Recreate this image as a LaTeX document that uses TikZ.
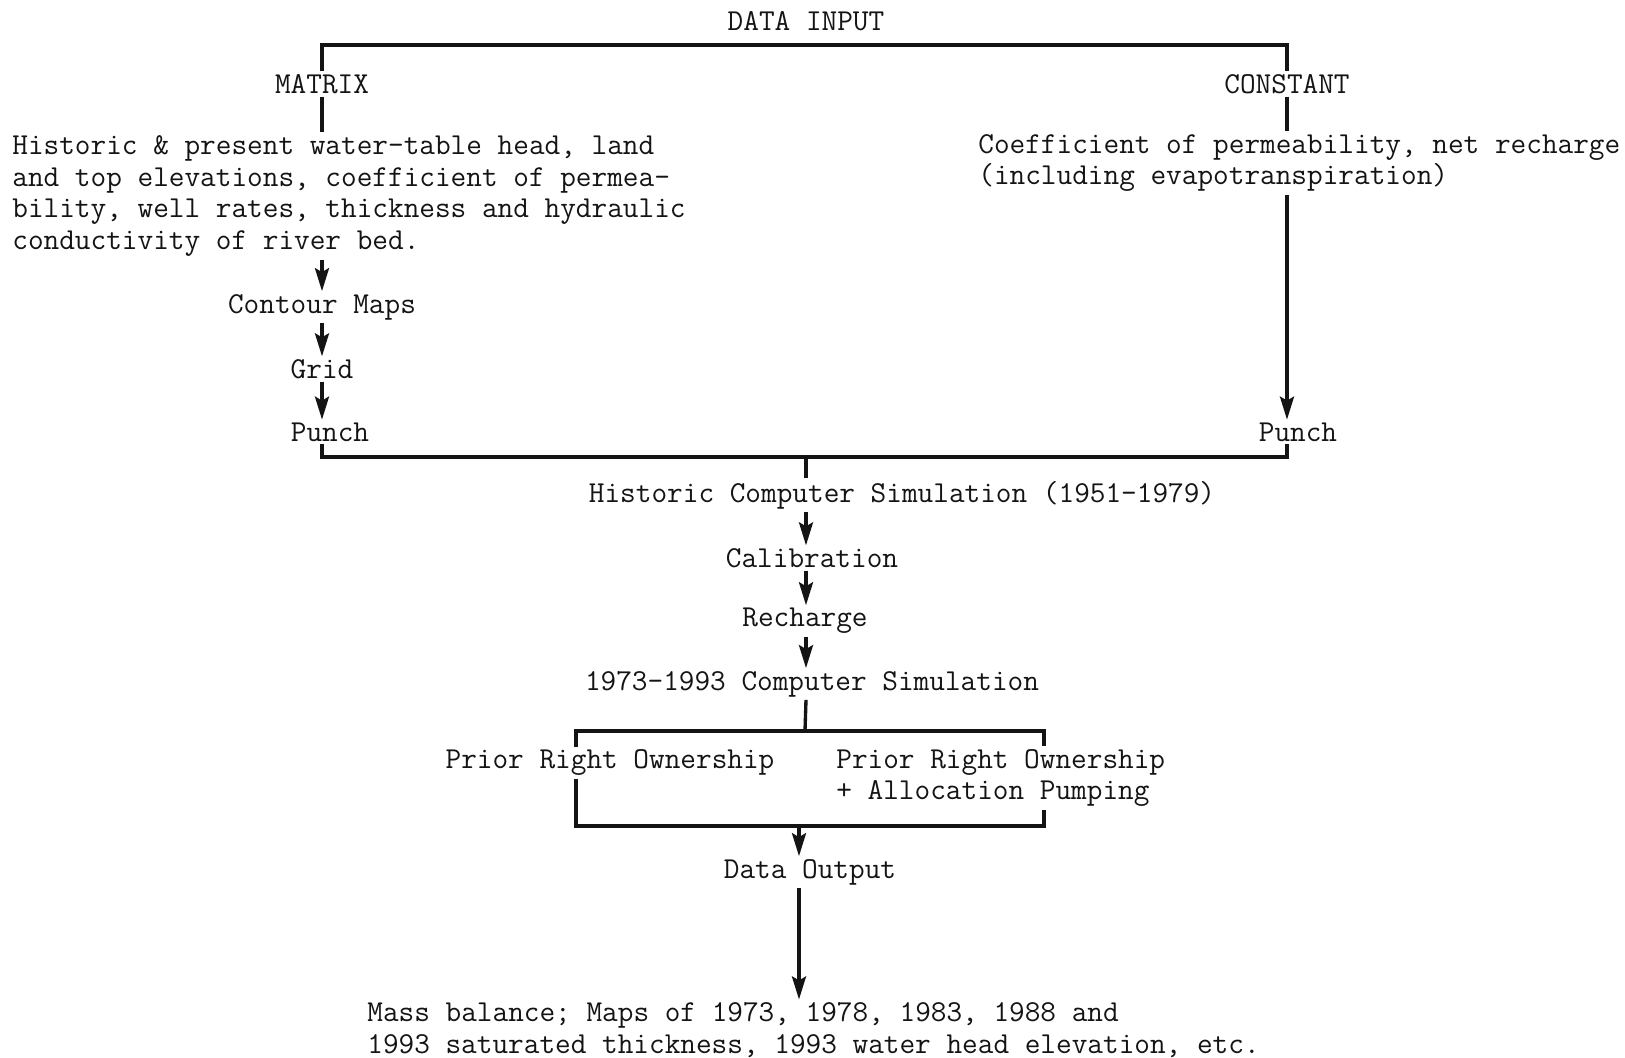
\documentclass[tikz,border=0pt]{standalone}
\usepackage{fontspec}
\usepackage{tikz}
\usetikzlibrary{
  arrows.meta,
  positioning,
  calc
}
\definecolor{inkblack}{RGB}{20,20,20}
\tikzset{
  flowtext/.style={
    inner xsep=0pt,
    inner ysep=1.5pt,
    text=inkblack,
    font=\ttfamily\fontsize{17.3}{18.1}\selectfont
  },
  blocktext/.style={flowtext,align=left,anchor=west},
  flowline/.style={draw=inkblack,line width=1.9pt},
  flowarrow/.style={flowline,-{Stealth[length=4.6mm,width=2.8mm,inset=0.8mm]}},
}

\begin{document}
\begin{tikzpicture}[x=0.2mm,y=-0.2mm]
  \fill[white] (0,0) rectangle (1625,1058);
  \useasboundingbox (0,0) rectangle (1625,1058);

  % Input branches
  \node[flowtext] (input) at (806,21) {DATA INPUT};
  \node[flowtext] (matrix) at (322,84) {MATRIX};
  \node[flowtext] (constant) at (1287,84) {CONSTANT};
  \node[blocktext] (leftdata) at (12,196) {Historic \& present water-table head, land\\and top elevations, coefficient of permea-\\bility, well rates, thickness and hydraulic\\conductivity of river bed.};
  \node[blocktext] (rightdata) at (978,163) {Coefficient of permeability, net recharge\\(including evapotranspiration)};
  \node[flowtext] (contour) at (322,307) {Contour Maps};
  \node[flowtext] (grid) at (322,369) {Grid};
  \node[flowtext] (lpunch) at (330,432) {Punch};
  \node[flowtext] (rpunch) at (1298,432) {Punch};

  \coordinate (topbar) at (806,45);
  \coordinate (joinTop) at (806,457);

  \draw[flowline] (matrix.north) |- (topbar) -| (constant.north);
  \draw[flowline] (matrix.south) -- (matrix.south |- leftdata.north);
  \draw[flowline] (constant.south) -- (constant.south |- rightdata.north);
  \draw[flowarrow] (matrix.south |- leftdata.south) -- (contour.north);
  \draw[flowarrow] (contour.south) -- (grid.north);
  \draw[flowarrow] (grid.south) -- (grid.south |- lpunch.north);
  \draw[flowarrow] (constant.south |- rightdata.south) -- (constant.south |- rpunch.north);
  \draw[flowline] (lpunch.south -| grid) |- (joinTop) -| (rpunch.south -| constant);

  % Simulation chain
  \node[flowtext] (hist) at (902,495) {Historic Computer Simulation (1951-1979)};
  \node[flowtext] (calib) at (812,558) {Calibration};
  \node[flowtext] (recharge) at (805,621) {Recharge};
  \node[flowtext] (sim) at (812,684) {1973-1993 Computer Simulation};

  \draw[flowline] (joinTop) -- (joinTop |- hist.north);
  \draw[flowarrow] (joinTop |- hist.south) -- (joinTop |- calib.north);
  \draw[flowarrow] (joinTop |- calib.south) -- (joinTop |- recharge.north);
  \draw[flowarrow] (joinTop |- recharge.south) -- (joinTop |- sim.north);

  % Two pumping cases
  \node[flowtext] (prior) at (610,763) {Prior Right Ownership};
  \node[blocktext] (alloc) at (836,778) {Prior Right Ownership\\+ Allocation Pumping};

  \coordinate (split) at (805,731);
  \coordinate (splitL) at (576,731);
  \coordinate (splitR) at (1044,731);
  \coordinate (joinBot) at (799,826);

  \draw[flowline] (joinTop |- sim.south) -- (split);
  \draw[flowline] (splitL |- prior.north) |- (split) -| (splitR |- alloc.north);
  \draw[flowline] (splitL |- prior.south) |- (joinBot) -| (splitR |- alloc.south);

  % Output
  \node[flowtext] (output) at (810,872) {Data Output};
  \node[blocktext] (result) at (367,1030) {Mass balance; Maps of 1973, 1978, 1983, 1988 and\\1993 saturated thickness, 1993 water head elevation, etc.};

  \draw[flowarrow] (joinBot) -- (joinBot |- output.north);
  \draw[flowarrow] (joinBot |- output.south) -- (joinBot |- result.north);
\end{tikzpicture}
\end{document}
